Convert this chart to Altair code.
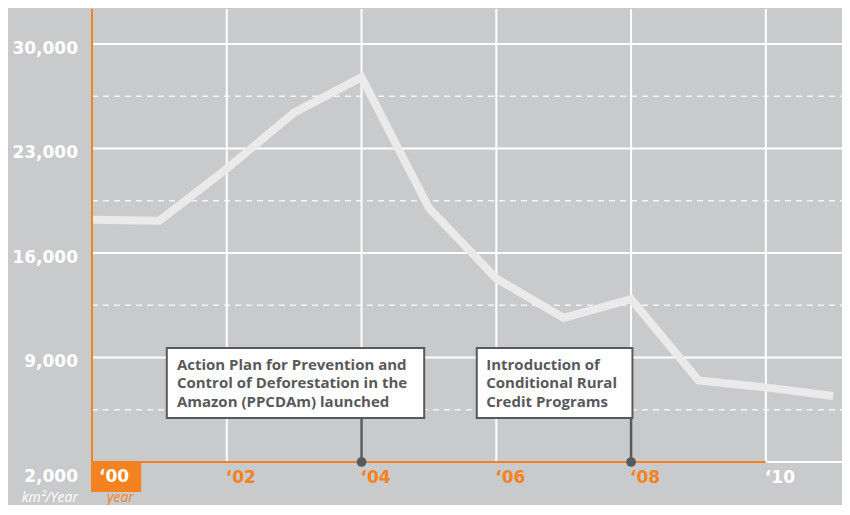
import altair as alt
import pandas as pd

# ---------------- data ----------------
years = list(range(2000, 2012))
deforestation = [18226, 18165, 21651, 25396, 27772, 19014, 14286, 11651, 12911, 7464, 7000, 6418]

y_solid = [9000, 16000, 23000, 30000]
y_dashed = [5500, 12500, 19500, 26500]
y_label_values = [30000, 23000, 16000, 9000]
x_ticks = [2002, 2004, 2006, 2008, 2010]
x_tick_labels = ["\u201802", "\u201804", "\u201806", "\u201808", "\u201810"]
first_year_label = "\u201800"
base_label = "2,000"
y_unit = "km\u00b2/Year"
x_unit = "year"

event_years = [2004, 2008]
event_texts = [
    "Action Plan for Prevention and\nControl of Deforestation in the\nAmazon (PPCDAm) launched",
    "Introduction of\nConditional Rural\nCredit Programs",
]

# ---------------- layout (data units) ----------------
X_MIN, X_MAX = 2000, 2011.13
Y_MIN, Y_MAX = 2000, 32343
box_x0 = [2001.11, 2005.71]
box_x1 = [2004.93, 2008.02]
box_top = 9640
box_bottom = 4950
text_x = [2001.26, 2005.85]
text_y = 8163
tag_x1 = 2000.73
tag_y1 = -10

BG = "#C9CACC"
ORANGE = "#F48220"
DARK = "#58595B"
LINE = "#EAEAEA"
NUM_FONT = "DejaVu Sans"
NOTE_FONT = "Open Sans"

xs = alt.Scale(domain=[X_MIN, X_MAX], nice=False, zero=False)
ys = alt.Scale(domain=[Y_MIN, Y_MAX], nice=False, zero=False)


def X(f):
    return alt.X(f, type="quantitative", scale=xs, axis=None)


def Y(f):
    return alt.Y(f, type="quantitative", scale=ys, axis=None)


solid_df = pd.DataFrame({"y": y_solid, "x0": X_MIN, "x1": X_MAX})
dashed_df = pd.DataFrame({"y": y_dashed, "x0": X_MIN, "x1": X_MAX})
vgrid_df = pd.DataFrame({"x": x_ticks, "y0": Y_MIN, "y1": Y_MAX})
base_df = pd.DataFrame({"x0": [X_MIN, 2010], "x1": [2010, X_MAX], "y": [Y_MIN, Y_MIN],
                        "c": [ORANGE, "#FFFFFF"]})
axis_df = pd.DataFrame({"x": [X_MIN], "y0": [tag_y1], "y1": [Y_MAX]})
tag_df = pd.DataFrame({"x0": [X_MIN], "x1": [tag_x1], "y0": [Y_MIN], "y1": [tag_y1]})
line_df = pd.DataFrame({"year": years, "value": deforestation})
ylab_df = pd.DataFrame({"x": X_MIN, "y": y_label_values})
xlab_df = pd.DataFrame({"x": x_ticks, "y": Y_MIN, "label": x_tick_labels,
                        "c": [ORANGE] * 4 + ["#FFFFFF"]})
one_df = pd.DataFrame({"x": [X_MIN], "y": [Y_MIN]})
ev_df = pd.DataFrame({"year": event_years, "text": event_texts, "bx0": box_x0, "bx1": box_x1,
                      "by0": box_bottom, "by1": box_top, "tx": text_x, "ty": text_y,
                      "base": Y_MIN})

hsolid = alt.Chart(solid_df).mark_rule(color="#FFFFFF", strokeWidth=2).encode(
    x=X("x0"), x2="x1", y=Y("y"))
hdash = alt.Chart(dashed_df).mark_rule(color="#F4F4F4", strokeWidth=1.5, strokeDash=[6, 5]).encode(
    x=X("x0"), x2="x1", y=Y("y"))
vgrid = alt.Chart(vgrid_df).mark_rule(color="#FFFFFF", strokeWidth=2).encode(
    x=X("x"), y=Y("y0"), y2="y1")
line = alt.Chart(line_df).mark_line(color=LINE, strokeWidth=8, strokeCap="butt",
                                    strokeJoin="miter").encode(x=X("year"), y=Y("value"))
base = alt.Chart(base_df).mark_rule(strokeWidth=2).encode(
    x=X("x0"), x2="x1", y=Y("y"), color=alt.Color("c:N", scale=None))
yaxis = alt.Chart(axis_df).mark_rule(color=ORANGE, strokeWidth=2).encode(
    x=X("x"), y=Y("y0"), y2="y1")
tag = alt.Chart(tag_df).mark_rect(color=ORANGE).encode(
    x=X("x0"), x2="x1", y=Y("y0"), y2="y1")

ylabels = alt.Chart(ylab_df).mark_text(align="right", baseline="alphabetic", dx=-14, dy=10,
                                       font=NUM_FONT, fontWeight="bold", fontSize=17,
                                       color="#FFFFFF").encode(
    x=X("x"), y=Y("y"), text=alt.Text("y:Q", format=","))
base_lab = alt.Chart(one_df).mark_text(align="right", baseline="alphabetic", dx=-14, dy=20,
                                       font=NUM_FONT, fontWeight="bold", fontSize=17,
                                       color="#FFFFFF", text=base_label).encode(x=X("x"), y=Y("y"))
xlabels = alt.Chart(xlab_df).mark_text(align="left", baseline="alphabetic", dx=-1, dy=21,
                                       font=NUM_FONT, fontWeight="bold", fontSize=17).encode(
    x=X("x"), y=Y("y"), text="label:N", color=alt.Color("c:N", scale=None))
first_lab = alt.Chart(one_df).mark_text(align="left", baseline="alphabetic", dx=7, dy=20,
                                        font=NUM_FONT, fontWeight="bold", fontSize=17,
                                        color="#FFFFFF", text=first_year_label).encode(
    x=X("x"), y=Y("y"))
yunit = alt.Chart(one_df).mark_text(align="right", baseline="alphabetic", dx=-14, dy=40,
                                    font="Open Sans", fontStyle="italic", fontSize=14,
                                    color="#FFFFFF", text=y_unit).encode(x=X("x"), y=Y("y"))
xunit = alt.Chart(one_df).mark_text(align="left", baseline="alphabetic", dx=15, dy=40,
                                    font="Open Sans", fontStyle="italic", fontSize=14,
                                    color=ORANGE, text=x_unit).encode(x=X("x"), y=Y("y"))

conn = alt.Chart(ev_df).mark_rule(color=DARK, strokeWidth=2.5).encode(
    x=X("year"), y=Y("base"), y2="by0")
dots = alt.Chart(ev_df).mark_circle(color=DARK, size=95, opacity=1).encode(
    x=X("year"), y=Y("base"))
boxes = alt.Chart(ev_df).mark_rect(fill="#FFFFFF", stroke=DARK, strokeWidth=2).encode(
    x=X("bx0"), x2="bx1", y=Y("by0"), y2="by1")
texts = alt.Chart(ev_df).mark_text(align="left", baseline="alphabetic", lineBreak="\n",
                                   lineHeight=18.5, font=NOTE_FONT, fontWeight="bold", fontSize=15,
                                   color=DARK).encode(x=X("tx"), y=Y("ty"), text="text:N")

chart = alt.layer(
    hsolid, hdash, vgrid, line, base, yaxis, tag,
    ylabels, base_lab, xlabels, first_lab, yunit, xunit,
    conn, dots, boxes, texts,
).properties(
    width=750, height=453,
    autosize=alt.AutoSizeParams(type="none"),
    padding={"left": 84, "top": 1, "right": 0, "bottom": 43},
    background=BG,
).configure_view(stroke=None)

chart.save("out.html", embed_options={"renderer": "svg", "actions": False})
